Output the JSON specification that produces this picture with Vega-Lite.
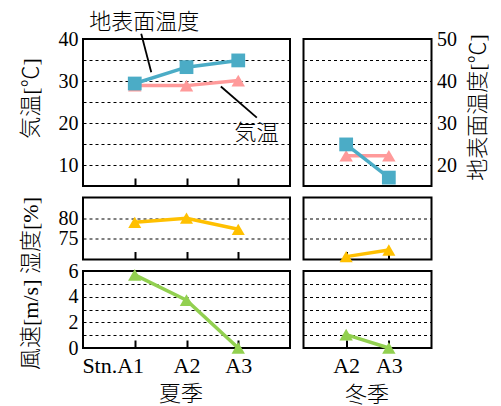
{
  "$schema": "https://vega.github.io/schema/vega-lite/v6.json",
  "background": "white",
  "padding": {"left": 17, "top": 9, "right": 0, "bottom": 0},
  "autosize": {"type": "pad"},
  "config": {
    "font": "'Liberation Serif', 'Noto Sans CJK JP', serif",
    "view": {"stroke": "black", "strokeWidth": 2},
    "text": {"font": "'Liberation Serif', 'Noto Sans CJK JP', serif"},
    "axis": {
      "labelFont": "'Liberation Serif', 'Noto Sans CJK JP', serif",
      "titleFont": "'Liberation Serif', 'Noto Sans CJK JP', serif",
      "labelFontSize": 22,
      "titleFontSize": 22,
      "labelColor": "black",
      "titleColor": "black",
      "titleFontWeight": 300,
      "domain": false,
      "gridColor": "black",
      "gridDash": [3, 3],
      "gridWidth": 1,
      "tickColor": "black"
    },
    "axisY": {"labelFontSize": 20}
  },
  "datasets": {
    "obs": [
      {"season": "夏季", "site": "Stn.A1", "airTemp": 28.9, "surfTemp": 39.4, "humidity": 79.0, "wind": 5.7},
      {"season": "夏季", "site": "A2", "airTemp": 28.9, "surfTemp": 43.3, "humidity": 80.0, "wind": 3.73},
      {"season": "夏季", "site": "A3", "airTemp": 30.1, "surfTemp": 44.9, "humidity": 77.3, "wind": 0},
      {"season": "冬季", "site": "A2", "airTemp": 12.2, "surfTemp": 24.9, "humidity": 70.7, "wind": 1.04},
      {"season": "冬季", "site": "A3", "airTemp": 12.2, "surfTemp": 17.0, "humidity": 72.3, "wind": 0}
    ]
  },
  "columns": 2,
  "spacing": {"row": 11.5, "column": 13.5},
  "bounds": "flush",
  "concat": [
    {
      "width": 207,
      "height": 147,
      "layer": [
        {
          "data": {"name": "obs"},
          "transform": [{"filter": "datum.season == '夏季'"}],
          "mark": {"type": "line", "color": "#ff9a9a", "strokeWidth": 3.5, "point": {"shape": "triangle-up", "size": 180, "filled": true, "color": "#ff9a9a", "opacity": 1}},
          "encoding": {
            "x": {"field": "site", "type": "nominal", "sort": null, "scale": {"type": "point", "domain": ["Stn.A1", "A2", "A3"], "padding": 1}, "axis": {"labels": false, "ticks": true, "tickSize": -8, "tickWidth": 2, "title": null, "grid": false}},
            "y": {"field": "airTemp", "type": "quantitative", "scale": {"domain": [5, 40], "nice": false, "zero": false}, "axis": {"values": [10, 15, 20, 25, 30, 35, 40], "labelExpr": "datum.value % 10 == 0 ? datum.label : ''", "ticks": false, "grid": true, "labelPadding": 5, "title": "気温[℃]", "titleAngle": -90, "titleX": -53, "titleY": 59, "titleBaseline": "middle", "titleAlign": "center"}}
          }
        },
        {
          "data": {"name": "obs"},
          "transform": [{"filter": "datum.season == '夏季'"}],
          "mark": {"type": "line", "color": "#4bacc6", "strokeWidth": 3.5, "point": {"shape": "square", "size": 190, "filled": true, "color": "#4bacc6", "opacity": 1}},
          "encoding": {
            "x": {"field": "site", "type": "nominal", "sort": null, "scale": {"type": "point", "domain": ["Stn.A1", "A2", "A3"], "padding": 1}, "axis": null},
            "y": {"field": "surfTemp", "type": "quantitative", "scale": {"domain": [15, 50], "nice": false, "zero": false}, "axis": null}
          }
        },
        {
          "data": {"values": [{}]},
          "mark": {"type": "rule", "color": "black", "strokeWidth": 1.8},
          "encoding": {
            "x": {"datum": 1.125, "type": "quantitative", "scale": {"domain": [0, 4], "nice": false, "zero": false}, "axis": null},
            "y": {"datum": 41.24, "type": "quantitative", "scale": {"domain": [5, 40], "nice": false, "zero": false}, "axis": null},
            "x2": {"datum": 1.319},
            "y2": {"datum": 32.1}
          }
        },
        {
          "data": {"values": [{}]},
          "mark": {"type": "rule", "color": "black", "strokeWidth": 1.8},
          "encoding": {
            "x": {"datum": 2.664, "type": "quantitative", "scale": {"domain": [0, 4], "nice": false, "zero": false}, "axis": null},
            "y": {"datum": 28.7, "type": "quantitative", "scale": {"domain": [5, 40], "nice": false, "zero": false}, "axis": null},
            "x2": {"datum": 3.359},
            "y2": {"datum": 21.27}
          }
        },
        {
          "data": {"values": [{}]},
          "mark": {"type": "text", "fontSize": 22, "fontWeight": 300, "align": "center", "baseline": "middle", "color": "black"},
          "encoding": {
            "x": {"datum": 1.183, "type": "quantitative", "scale": {"domain": [0, 4], "nice": false, "zero": false}, "axis": null},
            "y": {"datum": 44.16, "type": "quantitative", "scale": {"domain": [5, 40], "nice": false, "zero": false}, "axis": null},
            "text": {"value": "地表面温度"}
          }
        },
        {
          "data": {"values": [{}]},
          "mark": {"type": "text", "fontSize": 22, "fontWeight": 300, "align": "center", "baseline": "middle", "color": "black"},
          "encoding": {
            "x": {"datum": 3.355, "type": "quantitative", "scale": {"domain": [0, 4], "nice": false, "zero": false}, "axis": null},
            "y": {"datum": 17.53, "type": "quantitative", "scale": {"domain": [5, 40], "nice": false, "zero": false}, "axis": null},
            "text": {"value": "気温"}
          }
        }
      ],
      "resolve": {"scale": {"x": "independent", "y": "independent"}}
    },
    {
      "width": 128,
      "height": 147,
      "data": {"name": "obs"},
      "transform": [{"filter": "datum.season == '冬季'"}],
      "layer": [
        {
          "mark": {"type": "line", "color": "#ff9a9a", "strokeWidth": 3.5, "point": {"shape": "triangle-up", "size": 180, "filled": true, "color": "#ff9a9a", "opacity": 1}},
          "encoding": {
            "x": {"field": "site", "type": "nominal", "sort": null, "scale": {"type": "point", "domain": ["A2", "A3"], "padding": 1}, "axis": {"labels": false, "ticks": true, "tickSize": -8, "tickWidth": 2, "title": null, "grid": false}},
            "y": {"field": "airTemp", "type": "quantitative", "scale": {"domain": [5, 40], "nice": false, "zero": false}, "axis": {"values": [10, 15, 20, 25, 30, 35, 40], "labels": false, "ticks": false, "grid": true, "title": null}}
          }
        },
        {
          "mark": {"type": "line", "color": "#4bacc6", "strokeWidth": 3.5, "point": {"shape": "square", "size": 190, "filled": true, "color": "#4bacc6", "opacity": 1}},
          "encoding": {
            "x": {"field": "site", "type": "nominal", "sort": null, "scale": {"type": "point", "domain": ["A2", "A3"], "padding": 1}, "axis": null},
            "y": {"field": "surfTemp", "type": "quantitative", "scale": {"domain": [15, 50], "nice": false, "zero": false}, "axis": {"orient": "right", "values": [20, 30, 40, 50], "ticks": false, "grid": false, "labelPadding": 5, "title": "地表面温度[℃]", "titleAngle": -90, "titleX": 46, "titleY": 68, "titleBaseline": "middle", "titleAlign": "center"}}
          }
        }
      ],
      "resolve": {"scale": {"y": "independent"}}
    },
    {
      "width": 207,
      "height": 62,
      "data": {"name": "obs"},
      "transform": [{"filter": "datum.season == '夏季'"}],
      "mark": {"type": "line", "color": "#ffc000", "strokeWidth": 3.5, "point": {"shape": "triangle-up", "size": 170, "filled": true, "color": "#ffc000", "opacity": 1}},
      "encoding": {
        "x": {"field": "site", "type": "nominal", "sort": null, "scale": {"type": "point", "domain": ["Stn.A1", "A2", "A3"], "padding": 1}, "axis": {"labels": false, "ticks": true, "tickSize": -8, "tickWidth": 2, "title": null, "grid": false}},
        "y": {"field": "humidity", "type": "quantitative", "scale": {"domain": [70, 85], "nice": false, "zero": false}, "axis": {"values": [75, 80], "ticks": false, "grid": true, "labelPadding": 5, "title": null}}
      }
    },
    {
      "width": 128,
      "height": 62,
      "data": {"name": "obs"},
      "transform": [{"filter": "datum.season == '冬季'"}],
      "mark": {"type": "line", "color": "#ffc000", "strokeWidth": 3.5, "point": {"shape": "triangle-up", "size": 170, "filled": true, "color": "#ffc000", "opacity": 1}},
      "encoding": {
        "x": {"field": "site", "type": "nominal", "sort": null, "scale": {"type": "point", "domain": ["A2", "A3"], "padding": 1}, "axis": {"labels": false, "ticks": true, "tickSize": -8, "tickWidth": 2, "title": null, "grid": false}},
        "y": {"field": "humidity", "type": "quantitative", "scale": {"domain": [70, 85], "nice": false, "zero": false}, "axis": {"values": [75, 80], "labels": false, "ticks": false, "grid": true, "title": null}}
      }
    },
    {
      "width": 207,
      "height": 77,
      "data": {"name": "obs"},
      "transform": [{"filter": "datum.season == '夏季'"}],
      "mark": {"type": "line", "color": "#92d050", "strokeWidth": 3.5, "point": {"shape": "triangle-up", "size": 180, "filled": true, "color": "#92d050", "opacity": 1}},
      "encoding": {
        "x": {"field": "site", "type": "nominal", "sort": null, "scale": {"type": "point", "domain": ["Stn.A1", "A2", "A3"], "padding": 1}, "axis": {"labels": true, "labelAngle": 0, "labelBaseline": "top", "labelAlign": "center", "labelOffset": {"condition": {"test": "datum.value == 'Stn.A1'", "value": -22}, "value": 0}, "labelPadding": 15, "ticks": true, "tickSize": -8, "tickWidth": 2, "grid": false, "title": "夏季", "titleX": 97.5, "titleY": 45, "titleBaseline": "middle", "titleAlign": "center"}},
        "y": {"field": "wind", "type": "quantitative", "scale": {"domain": [0, 6], "nice": false, "zero": false}, "axis": {"values": [0, 1, 2, 3, 4, 5, 6], "labelExpr": "datum.value % 2 == 0 ? datum.label : ''", "ticks": false, "grid": true, "labelPadding": 5, "title": "風速[m/s] 湿度[%]", "titleAngle": -90, "titleX": -53, "titleY": 12, "titleBaseline": "middle", "titleAlign": "center"}}
      }
    },
    {
      "width": 128,
      "height": 77,
      "data": {"name": "obs"},
      "transform": [{"filter": "datum.season == '冬季'"}],
      "mark": {"type": "line", "color": "#92d050", "strokeWidth": 3.5, "point": {"shape": "triangle-up", "size": 180, "filled": true, "color": "#92d050", "opacity": 1}},
      "encoding": {
        "x": {"field": "site", "type": "nominal", "sort": null, "scale": {"type": "point", "domain": ["A2", "A3"], "padding": 1}, "axis": {"labels": true, "labelAngle": 0, "labelBaseline": "top", "labelAlign": "center", "labelPadding": 15, "ticks": true, "tickSize": -8, "tickWidth": 2, "grid": false, "title": "冬季", "titleX": 63, "titleY": 46, "titleBaseline": "middle", "titleAlign": "center"}},
        "y": {"field": "wind", "type": "quantitative", "scale": {"domain": [0, 6], "nice": false, "zero": false}, "axis": {"values": [1, 2, 3, 4, 5], "labels": false, "ticks": false, "grid": true, "title": null}}
      }
    }
  ]
}
